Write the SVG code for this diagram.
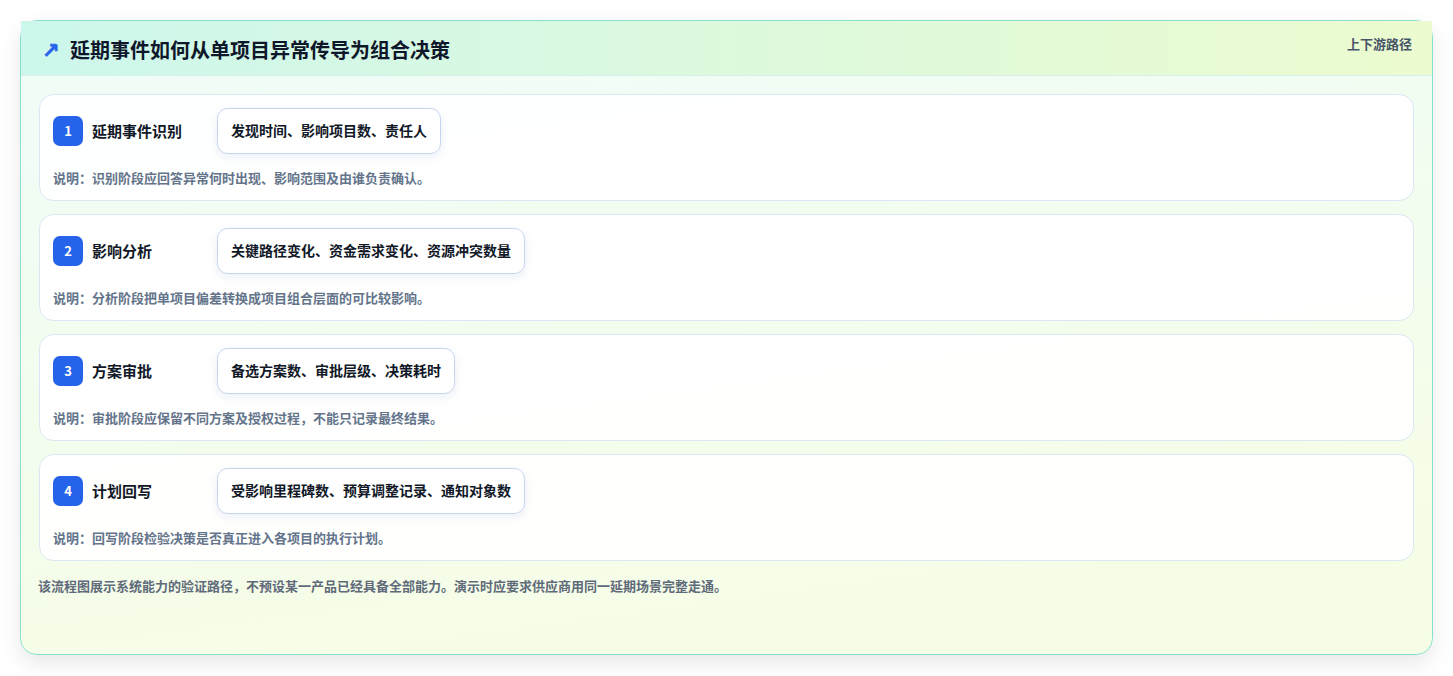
<svg xmlns="http://www.w3.org/2000/svg" width="1453" height="676" viewBox="0 0 1453 676">
<defs>
<linearGradient id="bodyGrad" x1="0" y1="0" x2="0.3" y2="1">
<stop offset="0" stop-color="#effdf8"/>
<stop offset="1" stop-color="#f6fde7"/>
</linearGradient>
<linearGradient id="headGrad" x1="0" y1="0" x2="1" y2="0">
<stop offset="0" stop-color="#cdf7ec"/>
<stop offset="1" stop-color="#ecfbcf"/>
</linearGradient>
<filter id="cardShadow" x="-5%" y="-10%" width="110%" height="125%">
<feDropShadow dx="0" dy="8" stdDeviation="10" flood-color="#000000" flood-opacity="0.09"/>
</filter>
<filter id="pillShadow" x="-10%" y="-20%" width="120%" height="160%">
<feDropShadow dx="0" dy="3" stdDeviation="4" flood-color="#1e3a8a" flood-opacity="0.08"/>
</filter>
<style>
text { font-family: "Noto Sans CJK SC", "Noto Sans", "Liberation Sans", sans-serif; }
.icon { font-family: "DejaVu Sans", sans-serif; font-size: 21px; font-weight: 700; fill: #2563eb; stroke: #2563eb; stroke-width: 0.6; }
.title { font-size: 20px; font-weight: 700; fill: #0f172a; }
.tag { font-size: 13px; font-weight: 600; fill: #475569; }
.card { fill: #ffffff; fill-opacity: 0.92; stroke: #dbe7f5; stroke-width: 1; }
.badge { fill: #2563eb; }
.num { font-size: 13px; font-weight: 700; fill: #ffffff; }
.label { font-size: 15px; font-weight: 700; fill: #111827; }
.pill { fill: #ffffff; stroke: #c3d5ef; stroke-width: 1; }
.pilltext { font-size: 14px; font-weight: 700; fill: #111827; }
.desc { font-size: 13px; font-weight: 700; fill: #64748b; }
.foot { font-size: 13px; font-weight: 700; fill: #5f6b7a; }
</style>
</defs>
<rect x="0" y="0" width="1453" height="676" fill="#ffffff"/>
<g id="frame">
<rect x="20.5" y="20.5" width="1412" height="634" rx="16" fill="url(#bodyGrad)" stroke="#86e0cc" stroke-width="1" filter="url(#cardShadow)"/>
<path d="M21 21 H1432 V75 H21 Z" fill="url(#headGrad)"/>
<line x1="21" y1="75.5" x2="1432" y2="75.5" stroke="#d5f0ea" stroke-width="1"/>
<text class="icon" x="42" y="58">↗</text>
<text class="title" x="70" y="57.6">延期事件如何从单项目异常传导为组合决策</text>
<text class="tag" x="1412" y="49.4" text-anchor="end">上下游路径</text>
</g>
<g id="step1">
<rect class="card" x="39.5" y="94.5" width="1374" height="106" rx="14"/>
<rect class="badge" x="53" y="116" width="30" height="30" rx="7"/>
<text class="num" x="68" y="135.6" text-anchor="middle">1</text>
<text class="label" x="92" y="136.7">延期事件识别</text>
<rect class="pill" x="217.5" y="108.5" width="223" height="45" rx="10" filter="url(#pillShadow)"/>
<text class="pilltext" x="231" y="136.3">发现时间、影响项目数、责任人</text>
<text class="desc" x="53" y="182.5">说明：识别阶段应回答异常何时出现、影响范围及由谁负责确认。</text>
</g>
<g id="step2">
<rect class="card" x="39.5" y="214.5" width="1374" height="106" rx="14"/>
<rect class="badge" x="53" y="236" width="30" height="30" rx="7"/>
<text class="num" x="68" y="255.6" text-anchor="middle">2</text>
<text class="label" x="92" y="256.7">影响分析</text>
<rect class="pill" x="217.5" y="228.5" width="307" height="45" rx="10" filter="url(#pillShadow)"/>
<text class="pilltext" x="231" y="256.3">关键路径变化、资金需求变化、资源冲突数量</text>
<text class="desc" x="53" y="302.5">说明：分析阶段把单项目偏差转换成项目组合层面的可比较影响。</text>
</g>
<g id="step3">
<rect class="card" x="39.5" y="334.5" width="1374" height="106" rx="14"/>
<rect class="badge" x="53" y="356" width="30" height="30" rx="7"/>
<text class="num" x="68" y="375.6" text-anchor="middle">3</text>
<text class="label" x="92" y="376.7">方案审批</text>
<rect class="pill" x="217.5" y="348.5" width="237" height="45" rx="10" filter="url(#pillShadow)"/>
<text class="pilltext" x="231" y="376.3">备选方案数、审批层级、决策耗时</text>
<text class="desc" x="53" y="422.5">说明：审批阶段应保留不同方案及授权过程，不能只记录最终结果。</text>
</g>
<g id="step4">
<rect class="card" x="39.5" y="454.5" width="1374" height="106" rx="14"/>
<rect class="badge" x="53" y="476" width="30" height="30" rx="7"/>
<text class="num" x="68" y="495.6" text-anchor="middle">4</text>
<text class="label" x="92" y="496.7">计划回写</text>
<rect class="pill" x="217.5" y="468.5" width="307" height="45" rx="10" filter="url(#pillShadow)"/>
<text class="pilltext" x="231" y="496.3">受影响里程碑数、预算调整记录、通知对象数</text>
<text class="desc" x="53" y="542.5">说明：回写阶段检验决策是否真正进入各项目的执行计划。</text>
</g>
<g id="connectors"></g>
<g id="footer">
<text class="foot" x="38" y="591">该流程图展示系统能力的验证路径，不预设某一产品已经具备全部能力。演示时应要求供应商用同一延期场景完整走通。</text>
</g>
</svg>
